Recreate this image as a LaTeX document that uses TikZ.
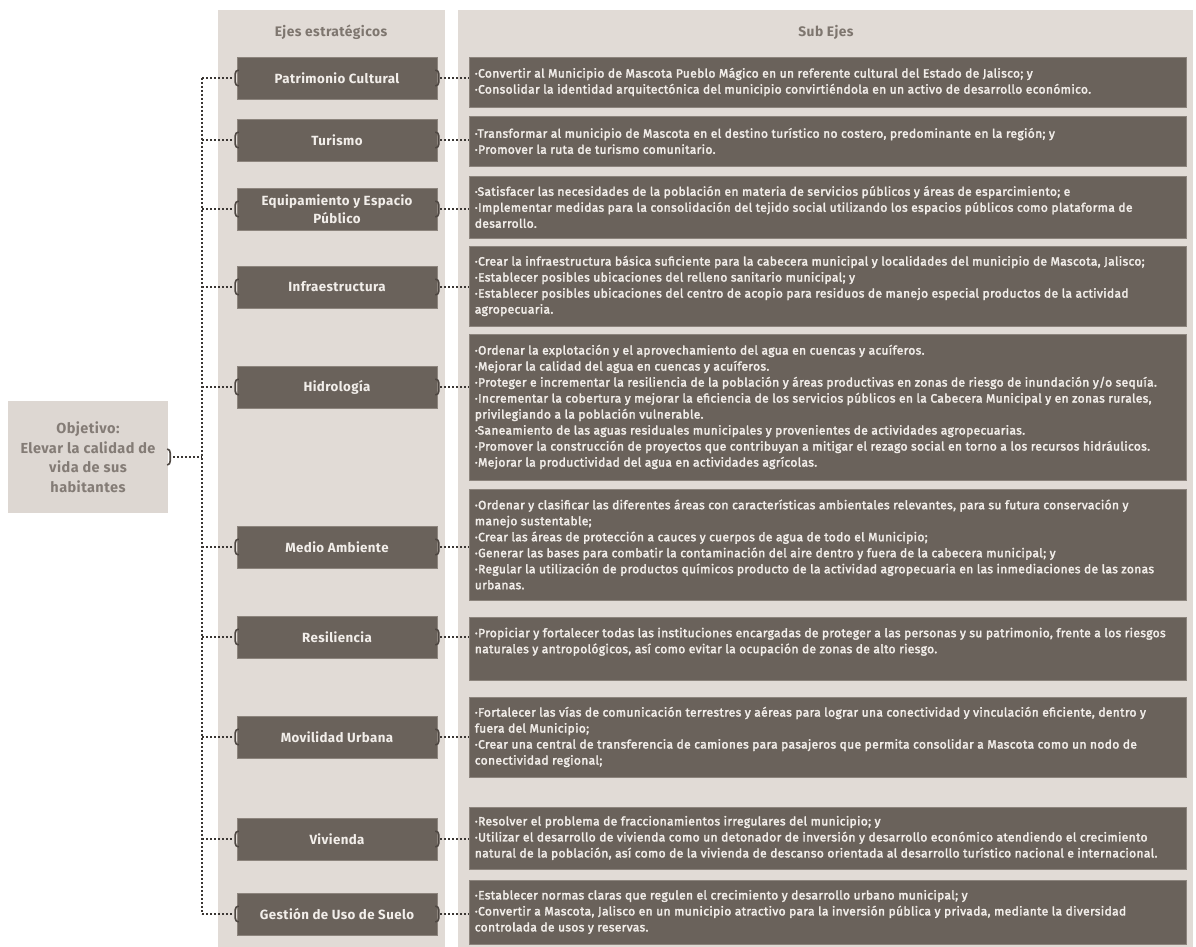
\documentclass[tikz,border=0pt]{standalone}
\usepackage{fontspec}
\setmainfont{Fira Sans}
\newfontfamily\lblfont[LetterSpace=3]{Fira Sans}
\newfontfamily\subfont[LetterSpace=3,FakeBold=2.5]{Fira Sans}
\definecolor{panel}{HTML}{E1DBD6}
\definecolor{boxc}{HTML}{6A625B}
\definecolor{boxedge}{HTML}{8C847D}
\definecolor{boxtxt}{HTML}{F2EEEA}
\definecolor{headc}{HTML}{7E766F}
\definecolor{objfill}{HTML}{DDD7D2}
\definecolor{objtxt}{HTML}{847C76}
\definecolor{dotc}{HTML}{3A3633}
\definecolor{brkc}{HTML}{4E4742}
\tikzset{
  lbox/.style={fill=boxc, draw=boxedge, line width=0.7pt, minimum width=200, minimum height=42, inner sep=0pt, text=boxtxt, font=\lblfont\bfseries\fontsize{13.3}{18}\selectfont, align=center},
  sbox/.style={fill=boxc, draw=boxedge, line width=0.7pt, minimum width=717, inner sep=0pt},
  stext/.style={anchor=west, align=left, text=boxtxt, inner sep=0pt, font=\subfont\fontsize{12}{16}\selectfont},
  headtxt/.style={text=headc, font=\lblfont\bfseries\fontsize{13.8}{14}\selectfont},
  objbox/.style={fill=objfill, minimum width=160, minimum height=112, inner sep=0pt, text=objtxt, align=center, font=\lblfont\bfseries\fontsize{14.5}{19.5}\selectfont},
  dotline/.style={draw=dotc, line width=2pt, dash pattern=on 2pt off 2pt},
  brk/.style={draw=brkc, line width=1.6pt}
}
\begin{document}
\begin{tikzpicture}[x=1pt,y=-1pt]
\useasboundingbox (0,0) rectangle (1196,947);
\fill[white] (0,0) rectangle (1196,947);
% panels
\fill[panel] (218,10) rectangle (445,947);
\fill[panel] (458,10) rectangle (1193,947);
\node[headtxt] (ej) at (331,32) {Ejes estratégicos};
\node[headtxt] (se) at (826,32) {Sub Ejes};
% objective
\node[objbox] (obj) at (88,457) {Objetivo:\\Elevar la calidad de\\vida de sus\\habitantes};
% left boxes
\node[lbox] (pc) at (337,78) {Patrimonio Cultural};
\node[lbox] (tu) at (337,140) {Turismo};
\node[lbox] (eq) at (337,209) {Equipamiento y Espacio\\Público};
\node[lbox] (inf) at (337,287) {Infraestructura};
\node[lbox] (hi) at (337,387) {Hidrología};
\node[lbox] (ma) at (337,547) {Medio Ambiente};
\node[lbox] (re) at (337,637) {Resiliencia};
\node[lbox] (mo) at (337,737) {Movilidad Urbana};
\node[lbox] (vi) at (337,839) {Vivienda};
\node[lbox] (gu) at (337,914) {Gestión de Uso de Suelo};
% sub boxes
\node[sbox, minimum height=50] (s1) at (827.5,82) {};
\node[sbox, minimum height=50] (s2) at (827.5,141) {};
\node[sbox, minimum height=62] (s3) at (827.5,207) {};
\node[sbox, minimum height=80] (s4) at (827.5,286) {};
\node[sbox, minimum height=146] (s5) at (827.5,407) {};
\node[sbox, minimum height=111] (s6) at (827.5,544.5) {};
\node[sbox, minimum height=63] (s7) at (827.5,648.5) {};
\node[sbox, minimum height=80] (s8) at (827.5,737) {};
\node[sbox, minimum height=62] (s9) at (827.5,838) {};
\node[sbox, minimum height=64] (s10) at (827.5,912) {};
% sub box texts
\node[stext] (t1) at ([xshift=6pt]s1.west) {·Convertir al Municipio de Mascota Pueblo Mágico en un referente cultural del Estado de Jalisco; y\\·Consolidar la identidad arquitectónica del municipio convirtiéndola en un activo de desarrollo económico.};
\node[stext] (t2) at ([xshift=6pt]s2.west) {·Transformar al municipio de Mascota en el destino turístico no costero, predominante en la región; y\\·Promover la ruta de turismo comunitario.};
\node[stext] (t3) at ([xshift=6pt]s3.west) {·Satisfacer las necesidades de la población en materia de servicios públicos y áreas de esparcimiento; e\\·Implementar medidas para la consolidación del tejido social utilizando los espacios públicos como plataforma de\\desarrollo.};
\node[stext] (t4) at ([xshift=6pt]s4.west) {·Crear la infraestructura básica suficiente para la cabecera municipal y localidades del municipio de Mascota, Jalisco;\\·Establecer posibles ubicaciones del relleno sanitario municipal; y\\·Establecer posibles ubicaciones del centro de acopio para residuos de manejo especial productos de la actividad\\agropecuaria.};
\node[stext] (t5) at ([xshift=6pt]s5.west) {·Ordenar la explotación y el aprovechamiento del agua en cuencas y acuíferos.\\·Mejorar la calidad del agua en cuencas y acuíferos.\\·Proteger e incrementar la resiliencia de la población y áreas productivas en zonas de riesgo de inundación y/o sequía.\\·Incrementar la cobertura y mejorar la eficiencia de los servicios públicos en la Cabecera Municipal y en zonas rurales,\\privilegiando a la población vulnerable.\\·Saneamiento de las aguas residuales municipales y provenientes de actividades agropecuarias.\\·Promover la construcción de proyectos que contribuyan a mitigar el rezago social en torno a los recursos hidráulicos.\\·Mejorar la productividad del agua en actividades agrícolas.};
\node[stext] (t6) at ([xshift=6pt]s6.west) {·Ordenar y clasificar las diferentes áreas con características ambientales relevantes, para su futura conservación y\\manejo sustentable;\\·Crear las áreas de protección a cauces y cuerpos de agua de todo el Municipio;\\·Generar las bases para combatir la contaminación del aire dentro y fuera de la cabecera municipal; y\\·Regular la utilización de productos químicos producto de la actividad agropecuaria en las inmediaciones de las zonas\\urbanas.};
\node[stext] (t7) at ([xshift=6pt]s7.west) {·Propiciar y fortalecer todas las instituciones encargadas de proteger a las personas y su patrimonio, frente a los riesgos\\naturales y antropológicos, así como evitar la ocupación de zonas de alto riesgo.\\\mbox{}};
\node[stext] (t8) at ([xshift=6pt]s8.west) {·Fortalecer las vías de comunicación terrestres y aéreas para lograr una conectividad y vinculación eficiente, dentro y\\fuera del Municipio;\\·Crear una central de transferencia de camiones para pasajeros que permita consolidar a Mascota como un nodo de\\conectividad regional;};
\node[stext] (t9) at ([xshift=6pt]s9.west) {·Resolver el problema de fraccionamientos irregulares del municipio; y\\·Utilizar el desarrollo de vivienda como un detonador de inversión y desarrollo económico atendiendo el crecimiento\\natural de la población, así como de la vivienda de descanso orientada al desarrollo turístico nacional e internacional.};
\node[stext] (t10) at ([xshift=6pt]s10.west) {·Establecer normas claras que regulen el crecimiento y desarrollo urbano municipal; y\\·Convertir a Mascota, Jalisco en un municipio atractivo para la inversión pública y privada, mediante la diversidad\\controlada de usos y reservas.};
% spine
\coordinate (v) at (202,0);
\draw[dotline] (pc.west -| v) -- (gu.west -| v);
\draw[dotline] ([xshift=5pt]obj.east) -- (obj.east -| v);
\draw[brk] ([xshift=-1pt,yshift=8pt]obj.east) to[out=0,in=90] ([xshift=2pt,yshift=4pt]obj.east) -- ([xshift=2pt,yshift=-4pt]obj.east) to[out=-90,in=0] ([xshift=-1pt,yshift=-8pt]obj.east);
\foreach \a/\b in {pc/s1,tu/s2,eq/s3,inf/s4,hi/s5,ma/s6,re/s7,mo/s8,vi/s9,gu/s10} {
  \draw[dotline] (\a.west -| v) -- ([xshift=-3pt]\a.west);
  \draw[dotline] ([xshift=3pt]\a.east) -- (\a.east -| \b.west);
  \draw[brk] ([xshift=2pt,yshift=8pt]\a.west) to[out=180,in=90] ([xshift=-1.5pt,yshift=4pt]\a.west) -- ([xshift=-1.5pt,yshift=-4pt]\a.west) to[out=-90,in=180] ([xshift=2pt,yshift=-8pt]\a.west);
  \draw[brk] ([xshift=-2pt,yshift=8pt]\a.east) to[out=0,in=90] ([xshift=1.5pt,yshift=4pt]\a.east) -- ([xshift=1.5pt,yshift=-4pt]\a.east) to[out=-90,in=0] ([xshift=-2pt,yshift=-8pt]\a.east);
}
\end{tikzpicture}
\end{document}
